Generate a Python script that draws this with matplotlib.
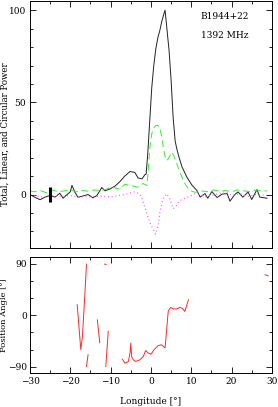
import matplotlib
matplotlib.use('Agg')
import matplotlib.pyplot as plt
from matplotlib.ticker import MultipleLocator

# total intensity
lon_I = [-30, -28.8, -27.5, -26.3, -25, -23.8, -22.6, -21.8, -20.8, -20, -19.6, -18.9, -18.1,
         -16.9, -15.6, -14.4, -13.4, -12.2, -11.4, -10.2, -8.9, -7.7, -6.5, -5.2, -4.0, -3.2,
         -2.2, -1.5, -1.2, -0.8, -0.3, 0.2, 0.7, 1.2, 1.7, 2.2, 2.7, 3.2, 3.5, 4.0, 4.5, 5.0,
         5.5, 6.0, 6.5, 7.0, 7.7, 8.9, 10.2, 11.4, 12.2, 13.4, 14.1, 15.1, 16.4, 17.6, 18.9,
         19.6, 20.8, 21.6, 22.8, 24.1, 25.0, 26.3, 27.0, 28.8]
tot_I = [0, -1.5, -2.8, -1.4, -0.5, -1.4, 0.7, -2, 0, 1.5, 5, 1.4, -1.5,
         -0.8, 0, -1.8, -0.5, 3.8, 2, 3, 4.6, 7, 10, 12.5, 12, 9,
         8.5, 10.8, 11, 22, 40, 58, 70, 79, 85, 89, 94, 98, 100, 89, 78, 62,
         42, 29, 24, 20, 15, 9.5, 5, 2.2, -1.4, 0.5, -2, 1.6, -1.6, 0.2, 0.5,
         -3.6, 0, 1.4, -1.4, 1.4, -2.7, 2.7, -1.4, -2]

# linear polarisation
lon_L = [-30, -28.8, -27.5, -26, -24.5, -23, -21.5, -20, -18.5, -17, -15.5, -14, -12.5,
         -11.4, -9.7, -7.7, -6.5, -5.0, -3.2, -2.0, -1.0, -0.7, -0.3, 0.2, 0.7, 1.2, 1.7,
         2.2, 2.7, 3.2, 3.7, 4.2, 4.7, 5.2, 5.7, 6.2, 6.7, 7.2, 7.7, 8.4, 9.0, 9.7, 11.0,
         12.5, 14, 15.5, 17, 18.5, 20, 21.5, 23, 24.5, 26, 27.5, 28.8]
lin_L = [2, 1.5, 2.2, 1.0, 2.5, 1.5, 2.0, 2.5, 1.5, 2.2, 1.8, 2.5, 2.2,
         2.7, 4, 3, 5.5, 4.9, 4, 6, 4.9, 12, 25, 33, 36, 37.5, 37.5,
         36.5, 31, 24, 18.5, 19, 21, 23, 21, 18, 15, 12, 9.5, 6, 4, 2.2, 1.2,
         2, 1.5, 2.5, 1.8, 2.2, 1.5, 2.5, 2, 1.6, 2.4, 2, 2]

# circular polarisation
lon_V = [-30, -28, -26, -24, -22, -20, -18, -16, -14, -12, -10, -8, -6.5, -5, -4, -3,
         -2.3, -1.5, -0.7, 0.1, 0.9, 1.1, 1.8, 2.2, 3.0, 3.9, 4.7, 5.5, 6.3, 7.1, 8.9,
         10.9, 12.5, 14, 16, 18.4, 20, 22, 24, 26, 28.8]
circ_V = [-0.5, -1, -1.5, -0.5, -1, -0.5, -1.5, -1, -1.2, -0.8, -1.4, -0.5, 0, 1, 1.5, 0.5,
          -1.5, -7, -12.5, -17, -20.5, -21.5, -17, -9.6, -2.4, 0.4, -2.4, -7.7, -6, -3.3, -1.6,
          0.4, -0.5, -1, 0, 1.6, -0.5, 0.5, -1, 0, -0.5]

# position angle, separate segments
pa_segments = [
    ([-18.3, -17.4, -17.0, -16.4, -16.0], [18.3, -60.3, -37, 36, 89.5]),
    ([-16.0, -15.6], [-89.5, -69]),
    ([-13.3, -12.7], [-8, -48]),
    ([-11.2, -10.6], [-89.5, -28]),
    ([-11.5, -11.1], [89.5, 89]),
    ([-7.1, -6.45, -5.6, -5.2, -5.0, -4.8, -4.4, -3.8, -2.7, -1.9, -1.3, -0.7, 0.0, 0.8,
      1.8, 2.6, 3.5, 3.9, 4.1, 4.3, 4.9, 5.6, 6.4, 7.2, 7.8, 8.4, 9.3],
     [-76.6, -83.6, -80.8, -66, -48.6, -72, -77.8, -80.8, -77.8, -72, -61.5, -66, -68, -60,
      -53, -51.6, -57, -25, -8, 7.8, 13.6, 11, 11, 14, 12, 6.6, 27]),
    ([28.3, 29.1], [70.8, 69]),
]

plt.rcParams['font.family'] = 'DejaVu Serif'
plt.rcParams['font.size'] = 6.5

fig = plt.figure(figsize=(2.78, 4.07), dpi=100)
ax = fig.add_axes([0.108, 0.3907, 0.870, 0.6068])
ax2 = fig.add_axes([0.108, 0.0835, 0.870, 0.2851])

ax.plot(lon_I, tot_I, color='#222222', lw=0.7)
ax.plot(lon_L, lin_L, color='#33ee33', lw=0.7, dashes=(7, 4))
ax.plot(lon_V, circ_V, color='#ff55ff', lw=0.9, linestyle=(0, (0.8, 2.2)))
ax.plot([-25, -25], [-4, 4], color='black', lw=2.2, solid_capstyle='butt')

ax.set_xlim(-30, 30)
ax.set_ylim(-29, 105)
ax.yaxis.set_major_locator(MultipleLocator(50))
ax.yaxis.set_minor_locator(MultipleLocator(10))
ax.xaxis.set_major_locator(MultipleLocator(10))
ax.xaxis.set_minor_locator(MultipleLocator(5))
ax.set_xticklabels([])
ax.set_ylabel('Total, Linear, and Circular Power', fontsize=6.2)
ax.yaxis.set_label_coords(-0.085, 0.46)
ax.text(0.905, 0.955, 'B1944+22', transform=ax.transAxes, ha='right', va='top')
ax.text(0.905, 0.88, '1392 MHz', transform=ax.transAxes, ha='right', va='top')

for lon, pa in pa_segments:
    ax2.plot(lon, pa, color='#ff2a2a', lw=0.7)

ax2.set_xlim(-30, 30)
ax2.set_ylim(-101, 102)
ax2.yaxis.set_minor_locator(MultipleLocator(30))
ax2.xaxis.set_minor_locator(MultipleLocator(5))
ax2.set_xticks([-30, -20, -10, 0, 10, 20, 30])
ax2.set_xticklabels(['\u221230', '\u221220', '\u221210', '0', '10', '20', '30'])
ax2.set_yticks([-90, 0, 90])
ax2.set_yticklabels(['\u221290', '0', '90'])
ax2.set_ylabel('Position Angle [\u00b0]', fontsize=6)
ax2.yaxis.set_label_coords(-0.09, 0.5)
ax2.set_xlabel('Longitude [\u00b0]', labelpad=8)

for a in (ax, ax2):
    a.tick_params(which='both', direction='in', top=True, right=True, width=0.6, pad=3)
    a.tick_params(which='major', length=4.5)
    a.tick_params(which='minor', length=2.5)
    for s in a.spines.values():
        s.set_linewidth(0.7)
ax2.tick_params(axis='y', pad=2)

fig.savefig('out.png', dpi=100)
